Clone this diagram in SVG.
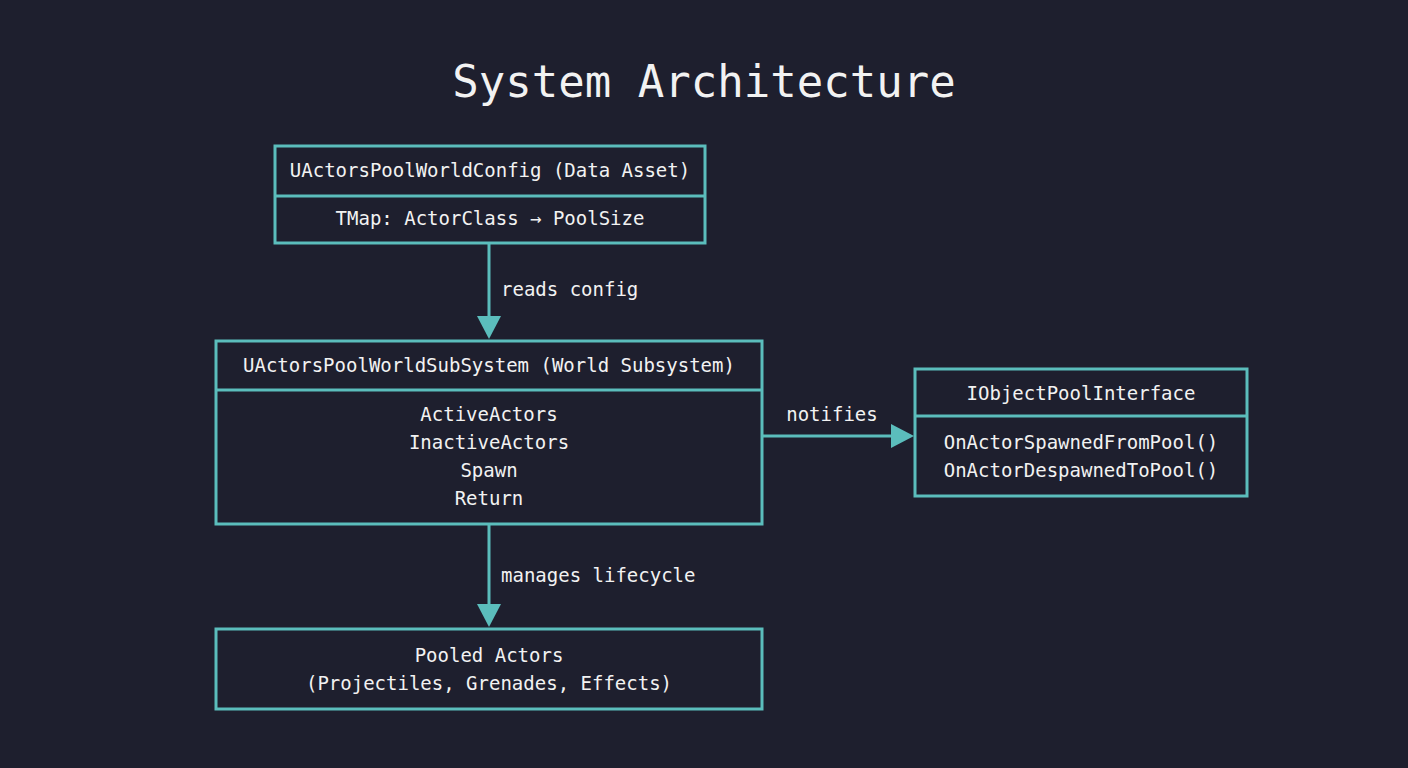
<svg xmlns="http://www.w3.org/2000/svg" width="1408" height="768" viewBox="0 0 1408 768">
<defs>
<style>
.box{fill:#1e1f2e;stroke:#5bbdbc;stroke-width:3}
.ln{stroke:#5bbdbc;stroke-width:3;fill:none}
text{font-family:"DejaVu Sans Mono","Liberation Mono",monospace;fill:#f2f2f2;font-size:19px;text-anchor:middle}
.t{font-size:44px}
.l{text-anchor:start}
</style>
<marker id="ah" markerWidth="10" markerHeight="10" refX="9" refY="5" orient="auto" markerUnits="userSpaceOnUse" viewBox="0 0 10 10"><path d="M0,0L10,5L0,10z" fill="#5bbdbc"/></marker>
</defs>
<rect width="1408" height="768" fill="#1e1f2e"/>
<text class="t" x="704" y="97">System Architecture</text>
<g id="connectors">
<line class="ln" x1="489" y1="244" x2="489" y2="318"/>
<path d="M477,316L501,316L489,339z" fill="#5bbdbc"/>
<text class="l" x="501" y="296">reads config</text>
<line class="ln" x1="489" y1="525" x2="489" y2="606"/>
<path d="M477,604L501,604L489,627z" fill="#5bbdbc"/>
<text class="l" x="501" y="582">manages lifecycle</text>
<line class="ln" x1="763" y1="436" x2="893" y2="436"/>
<path d="M891,424L891,448L914,436z" fill="#5bbdbc"/>
<text x="832" y="421">notifies</text>
</g>
<g id="config">
<rect class="box" x="275" y="146" width="430" height="97"/>
<line class="ln" x1="275" y1="196" x2="705" y2="196"/>
<text x="490" y="177">UActorsPoolWorldConfig (Data Asset)</text>
<text x="490" y="225">TMap: ActorClass → PoolSize</text>
</g>
<g id="subsystem">
<rect class="box" x="216" y="341" width="546" height="183"/>
<line class="ln" x1="216" y1="390" x2="762" y2="390"/>
<text x="489" y="372">UActorsPoolWorldSubSystem (World Subsystem)</text>
<text x="489" y="421">ActiveActors</text>
<text x="489" y="449">InactiveActors</text>
<text x="489" y="477">Spawn</text>
<text x="489" y="505">Return</text>
</g>
<g id="interface">
<rect class="box" x="915" y="369" width="332" height="127"/>
<line class="ln" x1="915" y1="416" x2="1247" y2="416"/>
<text x="1081" y="400">IObjectPoolInterface</text>
<text x="1081" y="449">OnActorSpawnedFromPool()</text>
<text x="1081" y="477">OnActorDespawnedToPool()</text>
</g>
<g id="pooled">
<rect class="box" x="216" y="629" width="546" height="80"/>
<text x="489" y="662">Pooled Actors</text>
<text x="489" y="690">(Projectiles, Grenades, Effects)</text>
</g>
</svg>
